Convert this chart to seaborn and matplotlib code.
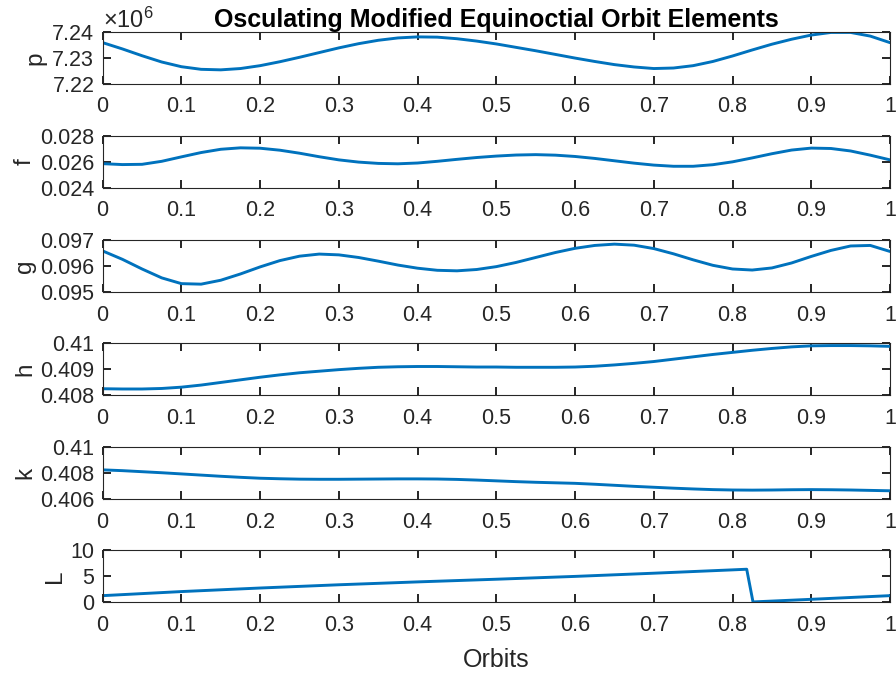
import numpy as np
import pandas as pd
import matplotlib
matplotlib.use("Agg")
import matplotlib.pyplot as plt
from matplotlib.ticker import ScalarFormatter, FixedFormatter, FixedLocator
import seaborn as sns

# Sampling grid in orbits (0 .. 1, step 0.025)
orbits = np.round(np.arange(0, 1.0001, 0.025), 3)

# Semi-latus rectum p [m]
p_m = [7.2358e6, 7.2334e6, 7.2308e6, 7.2284e6, 7.2266e6, 7.2256e6, 7.2254e6,
       7.2259e6, 7.2270e6, 7.2285e6, 7.2302e6, 7.2320e6, 7.2338e6, 7.2354e6,
       7.2367e6, 7.2376e6, 7.2380e6, 7.2379e6, 7.2373e6, 7.2364e6, 7.2353e6,
       7.2340e6, 7.2327e6, 7.2313e6, 7.2299e6, 7.2286e6, 7.2274e6, 7.2265e6,
       7.2259e6, 7.2261e6, 7.2270e6, 7.2286e6, 7.2307e6, 7.2330e6, 7.2352e6,
       7.2371e6, 7.2387e6, 7.2397e6, 7.2397e6, 7.2383e6, 7.2358e6]

f_el = [0.02586, 0.02579, 0.02581, 0.02604, 0.02638, 0.02671, 0.02696, 0.02707,
        0.02704, 0.02689, 0.02666, 0.02639, 0.02615, 0.02598, 0.02588, 0.02585,
        0.02591, 0.02604, 0.02619, 0.02633, 0.02644, 0.02652, 0.02655, 0.02651,
        0.02641, 0.02626, 0.02608, 0.02590, 0.02575, 0.02566, 0.02566, 0.02578,
        0.02600, 0.02630, 0.02662, 0.02690, 0.02705, 0.02702, 0.02683, 0.02651,
        0.02615]

g_el = [0.09657, 0.09625, 0.09588, 0.09554, 0.09532, 0.09530, 0.09545, 0.09569,
        0.09596, 0.09620, 0.09637, 0.09645, 0.09642, 0.09632, 0.09618, 0.09603,
        0.09591, 0.09583, 0.09581, 0.09586, 0.09597, 0.09613, 0.09632, 0.09651,
        0.09667, 0.09678, 0.09683, 0.09679, 0.09666, 0.09646, 0.09623, 0.09602,
        0.09588, 0.09584, 0.09592, 0.09611, 0.09636, 0.09659, 0.09676, 0.09678,
        0.09655]

h_el = [0.40824, 0.40823, 0.40823, 0.40825, 0.40830, 0.40838, 0.40848, 0.40858,
        0.40868, 0.40877, 0.40885, 0.40891, 0.40897, 0.40902, 0.40906, 0.40908,
        0.40909, 0.40909, 0.40908, 0.40907, 0.40907, 0.40906, 0.40906, 0.40906,
        0.40907, 0.40910, 0.40915, 0.40921, 0.40928, 0.40937, 0.40946, 0.40955,
        0.40963, 0.40971, 0.40978, 0.40984, 0.40988, 0.40989, 0.40989, 0.40988,
        0.40986]

k_el = [0.40823, 0.40817, 0.40809, 0.40801, 0.40792, 0.40783, 0.40774, 0.40766,
        0.40759, 0.40755, 0.40752, 0.40751, 0.40751, 0.40752, 0.40753, 0.40754,
        0.40754, 0.40753, 0.40750, 0.40745, 0.40739, 0.40733, 0.40728, 0.40724,
        0.40720, 0.40713, 0.40705, 0.40697, 0.40690, 0.40683, 0.40677, 0.40672,
        0.40669, 0.40668, 0.40669, 0.40671, 0.40672, 0.40671, 0.40669, 0.40666,
        0.40663]

# True longitude L [rad], wrapped to [0, 2*pi)
L_orbits = [0.0, 0.1, 0.2, 0.3, 0.4, 0.5, 0.6, 0.7, 0.8, 0.818, 0.826, 0.9, 1.0]
L_rad = [1.22, 2.00, 2.68, 3.30, 3.85, 4.36, 4.90, 5.51, 6.15, 6.27, 0.02, 0.52, 1.22]

x_ticks = [0, 0.1, 0.2, 0.3, 0.4, 0.5, 0.6, 0.7, 0.8, 0.9, 1.0]
x_tick_labels = ['0', '0.1', '0.2', '0.3', '0.4', '0.5', '0.6', '0.7', '0.8', '0.9', '1']

p_ticks = [7.22e6, 7.23e6, 7.24e6]
f_ticks, f_labels = [0.024, 0.026, 0.028], ['0.024', '0.026', '0.028']
g_ticks, g_labels = [0.095, 0.096, 0.097], ['0.095', '0.096', '0.097']
h_ticks, h_labels = [0.408, 0.409, 0.410], ['0.408', '0.409', '0.41']
k_ticks, k_labels = [0.406, 0.408, 0.410], ['0.406', '0.408', '0.41']
L_ticks, L_labels = [0, 5, 10], ['0', '5', '10']

LINE = '#0072BD'
AXC = '#262626'
TICK_FS = 15.5
LABEL_FS = 17.5
TITLE_FS = 18

sns.set_style("white")
plt.rcParams.update({
    'font.family': ['Liberation Sans', 'DejaVu Sans'],
    'mathtext.fontset': 'custom',
    'mathtext.rm': 'Liberation Sans',
    'mathtext.it': 'Liberation Sans:italic',
    'axes.edgecolor': AXC, 'axes.linewidth': 0.8,
})

panels = [
    ('p', orbits, p_m, p_ticks, None),
    ('f', orbits, f_el, f_ticks, f_labels),
    ('g', orbits, g_el, g_ticks, g_labels),
    ('h', orbits, h_el, h_ticks, h_labels),
    ('k', orbits, k_el, k_ticks, k_labels),
    ('L', L_orbits, L_rad, L_ticks, L_labels),
]

fig = plt.figure(figsize=(8.96, 6.75), dpi=100)
left, width, height = 0.1146, 0.8787, 0.0775
bottoms = [0.8756, 0.7215, 0.5674, 0.4148, 0.2607, 0.1081]

axes = []
for (name, xs, ys, yt, ylab), b in zip(panels, bottoms):
    ax = fig.add_axes([left, b, width, height])
    df = pd.DataFrame({'Orbits': xs, name: ys})
    sns.lineplot(data=df, x='Orbits', y=name, ax=ax, color=LINE,
                 linewidth=2.1, estimator=None, sort=False)
    ax.set_xlim(0, 1)
    ax.set_ylim(yt[0], yt[-1])
    ax.xaxis.set_major_locator(FixedLocator(x_ticks))
    ax.xaxis.set_major_formatter(FixedFormatter(x_tick_labels))
    ax.yaxis.set_major_locator(FixedLocator(yt))
    if ylab is not None:
        ax.yaxis.set_major_formatter(FixedFormatter(ylab))
    else:
        fmt = ScalarFormatter(useMathText=True)
        fmt.set_useOffset(False)
        fmt.set_powerlimits((6, 6))
        ax.yaxis.set_major_formatter(fmt)
    ax.tick_params(axis='both', which='major', direction='in', length=6,
                   width=1.2, color='black', labelsize=TICK_FS,
                   bottom=True, left=True, top=True, right=True)
    ax.tick_params(axis='x', pad=9, labelcolor=AXC)
    ax.tick_params(axis='y', pad=6, labelcolor=AXC)
    ax.set_ylabel(name, fontsize=LABEL_FS, color=AXC, labelpad=3)
    ax.set_xlabel('')
    axes.append(ax)

off = axes[0].yaxis.get_offset_text()
off.set_fontsize(17)
off.set_color(AXC)

axes[0].set_title('Osculating Modified Equinoctial Orbit Elements',
                  fontsize=TITLE_FS, fontweight='bold', color='black', pad=3)
axes[-1].set_xlabel('Orbits', fontsize=LABEL_FS + 0.5, color=AXC, labelpad=9)

fig.savefig('out.png', dpi=100, facecolor='white')
